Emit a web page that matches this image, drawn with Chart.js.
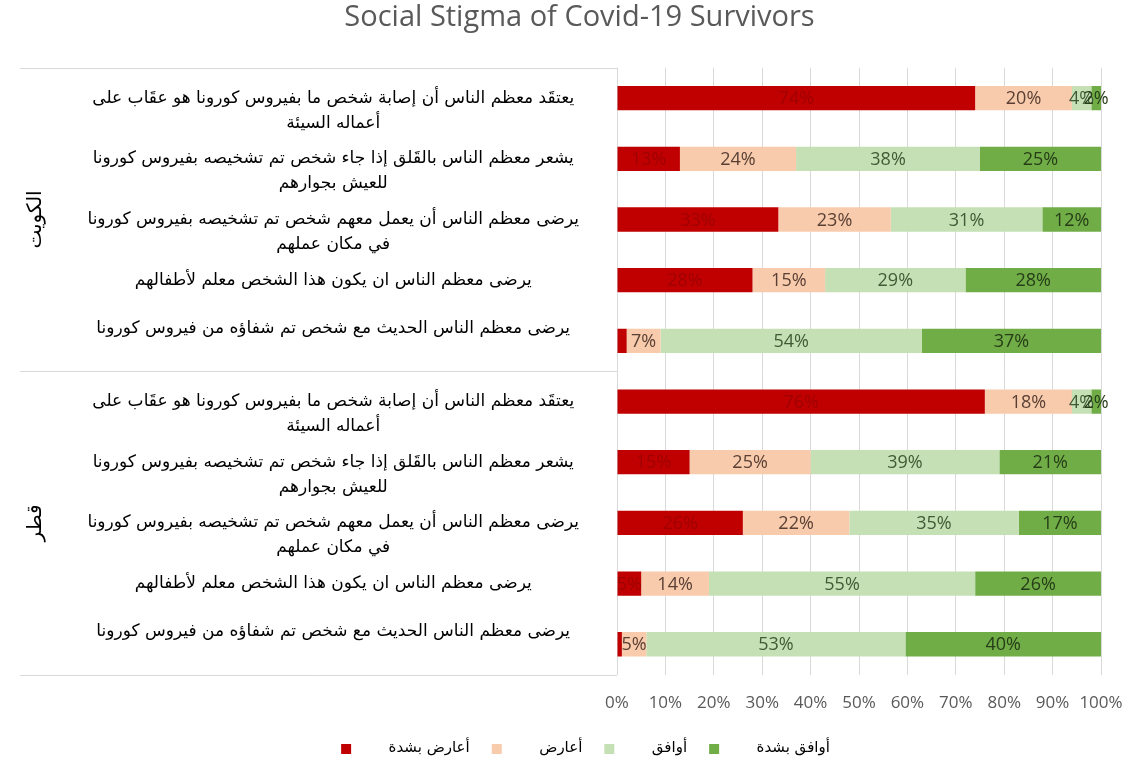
<!DOCTYPE html>
<html lang="ar">
<head>
<meta charset="UTF-8">
<title>Social Stigma of Covid-19 Survivors</title>
<script src="https://cdn.jsdelivr.net/npm/chart.js@4.4.1/dist/chart.umd.min.js"></script>
<style>
  html, body { margin: 0; padding: 0; background: #fff; }
  #wrap { width: 1129px; height: 766px; }
</style>
</head>
<body>
<div id="wrap"><canvas id="chart"></canvas></div>
<script>
// statements asked in each country (empty strings nudge the text block up or down)
const statements = [
  ['', 'يعتقَد معظم الناس أن إصابة شخص ما بفيروس كورونا هو عقَاب على', 'أعماله السيئة'],
  ['', 'يشعر معظم الناس بالقَلق إذا جاء شخص تم تشخيصه بفيروس كورونا', 'للعيش بجوارهم'],
  ['', 'يرضى معظم الناس أن يعمل معهم شخص تم تشخيصه بفيروس كورونا', 'في مكان عملهم'],
  ['يرضى معظم الناس ان يكون هذا الشخص معلم لأطفالهم'],
  ['يرضى معظم الناس الحديث مع شخص تم شفاؤه من فيروس كورونا', '']
];
const countries = ['الكويت', 'قطر'];
const labels = [...statements, ...statements];

const seriesNames = ['أعارض بشدة', 'أعارض', 'أوافق', 'أوافق بشدة'];
// percentages per row: Kuwait rows first, then Qatar
const stronglyDisagree = [74, 13, 33, 28, 2, 76, 15, 26, 5, 1];
const disagree         = [20, 24, 23, 15, 7, 18, 25, 22, 14, 5];
const agree            = [4, 38, 31, 29, 54, 4, 39, 35, 55, 53];
const stronglyAgree    = [2, 25, 12, 28, 37, 2, 21, 17, 26, 40];
const xTicks = [0, 10, 20, 30, 40, 50, 60, 70, 80, 90, 100];

const series = [stronglyDisagree, disagree, agree, stronglyAgree];
const colors = ['#c00000', '#f8cbad', '#c5e0b4', '#70ad47'];
const labelColors = ['#a00000', '#5a4034', '#3f5a36', '#263d18'];

// 100% stacked: each row is scaled to its own total
const rowTotals = labels.map((_, j) => series.reduce((s, arr) => s + arr[j], 0));

const arabicFont = "'DejaVu Sans', sans-serif";
const latinFont = "'Open Sans', sans-serif";

// legend swatch: small square inside a wider transparent strip so the entries spread out
const markerWidth = 52;
const markerOffset = 12;
function legendMarker(color) {
  const c = document.createElement('canvas');
  c.width = markerWidth;
  c.height = 10;
  const g = c.getContext('2d');
  g.fillStyle = color;
  g.fillRect(markerOffset, 0, 10, 10);
  return c;
}

const datasets = series.map((arr, i) => ({
  label: seriesNames[i],
  data: arr.map((v, j) => v / rowTotals[j] * 100),
  raw: arr,
  backgroundColor: colors[i],
  pointStyle: legendMarker(colors[i]),
  borderWidth: 0,
  categoryPercentage: 1,
  barPercentage: 0.4
}));

// percentage text in the middle of each segment
const segmentLabels = {
  id: 'segmentLabels',
  afterDatasetsDraw(chart) {
    const ctx = chart.ctx;
    ctx.save();
    ctx.font = '18px ' + latinFont;
    ctx.textAlign = 'center';
    ctx.textBaseline = 'middle';
    chart.data.datasets.forEach((ds, i) => {
      chart.getDatasetMeta(i).data.forEach((bar, j) => {
        const v = ds.raw[j];
        if (i === 0 && v < 3) return; // tiny red slivers carry no label
        ctx.fillStyle = labelColors[i];
        ctx.fillText(v + '%', (bar.x + bar.base) / 2, bar.y + 1);
      });
    });
    ctx.restore();
  }
};

// country names and the lines that split the two groups
const groupAxis = {
  id: 'groupAxis',
  afterDraw(chart) {
    const ctx = chart.ctx;
    const y = chart.scales.y;
    const n = statements.length;
    const left = 20, right = chart.chartArea.left;
    const mid = (y.getPixelForValue(n - 1) + y.getPixelForValue(n)) / 2;
    ctx.save();
    ctx.strokeStyle = '#d9d9d9';
    ctx.lineWidth = 1;
    [y.top, mid, y.bottom].forEach(py => {
      ctx.beginPath();
      ctx.moveTo(left, Math.round(py) + 0.5);
      ctx.lineTo(right, Math.round(py) + 0.5);
      ctx.stroke();
    });
    ctx.fillStyle = '#000';
    ctx.font = '20px ' + arabicFont;
    ctx.textAlign = 'center';
    ctx.textBaseline = 'middle';
    countries.forEach((name, g) => {
      const cy = (y.getPixelForValue(g * n) + y.getPixelForValue(g * n + n - 1)) / 2;
      ctx.save();
      ctx.translate(36, cy);
      ctx.rotate(-Math.PI / 2);
      ctx.fillText(name, 0, 0);
      ctx.restore();
    });
    ctx.restore();
  }
};

new Chart(document.getElementById('chart'), {
  type: 'bar',
  data: { labels: labels, datasets: datasets },
  options: {
    indexAxis: 'y',
    responsive: true,
    maintainAspectRatio: false,
    animation: false,
    layout: { padding: { left: 58, right: 28, top: 0, bottom: 0 } },
    scales: {
      x: {
        stacked: true,
        min: 0,
        max: 100,
        afterBuildTicks(scale) { scale.ticks = xTicks.map(v => ({ value: v })); },
        // let "100%" hang past the plot edge
        afterFit(scale) { scale.paddingRight = 0; },
        grid: { color: '#d9d9d9', drawTicks: false },
        border: { display: false },
        ticks: {
          padding: 18,
          autoSkip: false,
          maxRotation: 0,
          minRotation: 0,
          color: '#595959',
          font: { family: latinFont, size: 17, lineHeight: 1.2 },
          callback: v => v + '%'
        }
      },
      y: {
        stacked: true,
        afterFit(scale) {
          scale.width = 559;
          scale.paddingTop = 0;
          scale.paddingBottom = 0;
        },
        grid: { display: false, drawTicks: false },
        border: { display: false },
        ticks: {
          padding: 38,
          autoSkip: false,
          crossAlign: 'center',
          color: '#000',
          font: { family: arabicFont, size: 17, lineHeight: 1.47 }
        }
      }
    },
    plugins: {
      title: {
        display: true,
        text: 'Social Stigma of Covid-19 Survivors',
        color: '#595959',
        font: { family: latinFont, size: 29, weight: 'normal', lineHeight: 1.2 },
        padding: { top: 0, bottom: 33 }
      },
      legend: {
        position: 'bottom',
        labels: {
          usePointStyle: true,
          pointStyleWidth: markerWidth,
          boxHeight: 10,
          padding: 10,
          color: '#000',
          font: { family: arabicFont, size: 15 }
        }
      },
      tooltip: { enabled: false }
    }
  },
  plugins: [segmentLabels, groupAxis]
});
</script>
</body>
</html>
